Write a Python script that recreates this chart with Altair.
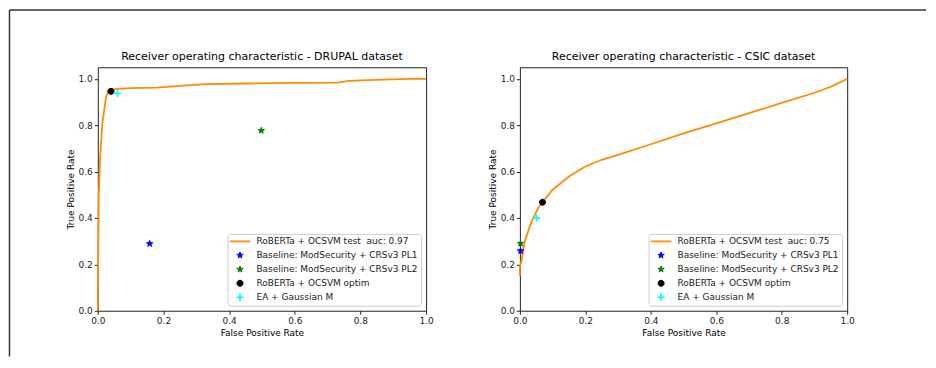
import altair as alt
import pandas as pd

# ---- data ----
drupal_fpr = [0.0, 0.001, 0.003, 0.007, 0.014, 0.016, 0.025, 0.031, 0.036, 0.05, 0.10, 0.18, 0.25, 0.33, 0.45, 0.59, 0.73, 0.76, 0.80, 0.87, 0.95, 1.0]
drupal_tpr = [0.0, 0.20, 0.50, 0.66, 0.81, 0.83, 0.92, 0.945, 0.952, 0.956, 0.960, 0.962, 0.970, 0.977, 0.980, 0.983, 0.984, 0.990, 0.993, 0.997, 1.0, 1.0]

csic_fpr = [0.0, 0.0, 0.005, 0.015, 0.036, 0.056, 0.071, 0.10, 0.15, 0.20, 0.25, 0.30, 0.40, 0.50, 0.60, 0.70, 0.80, 0.90, 0.95, 1.0]
csic_tpr = [0.15, 0.19, 0.215, 0.30, 0.386, 0.443, 0.472, 0.522, 0.579, 0.622, 0.651, 0.672, 0.718, 0.765, 0.808, 0.852, 0.896, 0.94, 0.966, 1.0]

drupal_names = ["RoBERTa + OCSVM test\u00a0 auc: 0.97", "Baseline: ModSecurity + CRSv3 PL1",
                "Baseline: ModSecurity + CRSv3 PL2", "RoBERTa + OCSVM optim", "EA + Gaussian M"]
csic_names = ["RoBERTa + OCSVM test\u00a0 auc: 0.75", "Baseline: ModSecurity + CRSv3 PL1",
              "Baseline: ModSecurity + CRSv3 PL2", "RoBERTa + OCSVM optim", "EA + Gaussian M"]

drupal_point_fpr = [0.158, 0.498, 0.040, 0.060]
drupal_point_tpr = [0.289, 0.777, 0.946, 0.937]
csic_point_fpr = [0.002, 0.002, 0.069, 0.051]
csic_point_tpr = [0.258, 0.290, 0.468, 0.400]

tick_values = [0.0, 0.2, 0.4, 0.6, 0.8, 1.0]
colors = ["#ff8c00", "#0000ff", "#008000", "#000000", "#00ffff"]
LINE = "M-3,-0.12L3,-0.12L3,0.12L-3,0.12Z"
STAR = ("M0,-1L0.225,-0.309L0.951,-0.309L0.363,0.118L0.588,0.809L0,0.382"
        "L-0.588,0.809L-0.363,0.118L-0.951,-0.309L-0.225,-0.309Z")
CIRCLE = "M0.9,0A0.9,0.9,0,1,1,-0.9,0A0.9,0.9,0,1,1,0.9,0Z"
PLUS = "M-1,-0.1L1,-0.1L1,0.1L-1,0.1ZM-0.1,-1L0.1,-1L0.1,1L-0.1,1Z"
shapes = [LINE, STAR, STAR, CIRCLE, PLUS]
FONT = "DejaVu Sans"


def panel(title, fpr, tpr, names, pfpr, ptpr, width):
    line_df = pd.DataFrame({"fpr": fpr, "tpr": tpr, "order": list(range(len(fpr)))})
    pts_df = pd.DataFrame({"fpr": pfpr, "tpr": ptpr, "series": names[1:]})
    x = alt.X("fpr:Q", scale=alt.Scale(domain=[0, 1], nice=False, zero=False),
              axis=alt.Axis(title="False Positive Rate", values=tick_values, format=".1f"))
    y = alt.Y("tpr:Q", scale=alt.Scale(domain=[0, 1.05], nice=False, zero=False),
              axis=alt.Axis(title="True Positive Rate", values=tick_values, format=".1f"))
    line = alt.Chart(line_df).mark_line(color=colors[0], strokeWidth=1.8).encode(
        x=x, y=y, order="order:Q")
    leg = alt.Legend(
        title=None, orient="bottom-right", offset=5, fillColor="white",
        strokeColor="#cccccc", cornerRadius=3, padding=3, symbolSize=45,
        symbolOffset=5, labelFont=FONT, labelFontSize=9, labelColor="#222",
        labelOffset=12, rowPadding=3, labelLimit=400, symbolStrokeWidth=1,
    )
    pts = alt.Chart(pts_df).mark_point(opacity=1, size=45, strokeWidth=1).encode(
        x=x, y=y,
        fill=alt.Fill("series:N", scale=alt.Scale(domain=names, range=colors), legend=leg),
        stroke=alt.Stroke("series:N", scale=alt.Scale(domain=names, range=colors), legend=leg),
        shape=alt.Shape("series:N", scale=alt.Scale(domain=names, range=shapes), legend=leg),
    )
    return alt.layer(line, pts).properties(
        width=width, height=244,
        title=alt.Title(title, font=FONT, fontSize=11, fontWeight="normal", color="black", offset=5),
    )


left = panel("Receiver operating characteristic - DRUPAL dataset", drupal_fpr, drupal_tpr,
             drupal_names, drupal_point_fpr, drupal_point_tpr, 329)
right = panel("Receiver operating characteristic - CSIC dataset", csic_fpr, csic_tpr,
              csic_names, csic_point_fpr, csic_point_tpr, 328)

panels = alt.hconcat(left, right, spacing=94, bounds="flush").resolve_scale(
    fill="independent", stroke="independent", shape="independent", x="independent", y="independent"
).resolve_legend(fill="independent", stroke="independent", shape="independent")

# thin frame along the top and left edges of the picture (decoration, not data)
frame_top = alt.Chart().mark_rule(color="#333", strokeWidth=1.5).encode(
    x=alt.value(-88.5), x2=alt.value(830), y=alt.value(0.5))
frame_left = alt.Chart().mark_rule(color="#333", strokeWidth=1.5).encode(
    x=alt.value(-88.5), y=alt.value(0.5), y2=alt.value(348))
frame = alt.layer(frame_top, frame_left).properties(
    width=1, height=1, view=alt.ViewBackground(stroke="transparent"))

chart = alt.vconcat(frame, panels, spacing=57, bounds="flush").properties(
    padding={"left": 0, "top": 0, "right": 0, "bottom": 0},
    background="white",
).configure_view(stroke="#222", strokeWidth=1).configure_axis(
    labelFont=FONT, labelFontSize=9, labelColor="#222", titleFont=FONT, titleFontSize=9,
    titleFontWeight="normal", titleColor="black", tickSize=3.5, tickColor="#222",
    domain=False, grid=False, labelPadding=2, titlePadding=3, labelFlush=False,
)

chart.save("out.html", embed_options={"renderer": "svg", "actions": False})
